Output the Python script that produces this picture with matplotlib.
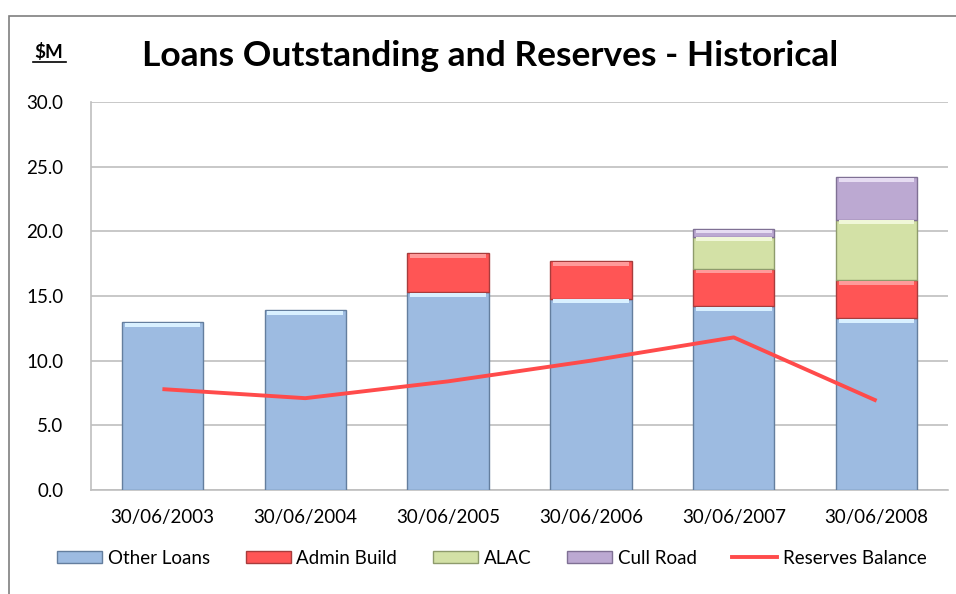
import numpy as np
import matplotlib
matplotlib.use("Agg")
import matplotlib.pyplot as plt
from matplotlib.patches import Patch, Rectangle
from matplotlib.lines import Line2D

# ─── Data ───────────────────────────────────────────────────────────────────
DATES = ["30/06/2003", "30/06/2004", "30/06/2005", "30/06/2006", "30/06/2007", "30/06/2008"]
OTHER_LOANS = [13.0, 13.9, 15.3, 14.8, 14.2, 13.3]
ADMIN_BUILD = [0.0, 0.0, 3.0, 2.9, 2.9, 2.9]
ALAC        = [0.0, 0.0, 0.0, 0.0, 2.5, 4.7]
CULL_ROAD   = [0.0, 0.0, 0.0, 0.0, 0.6, 3.3]
RESERVES    = [7.8, 7.1, 8.4, 10.0, 11.8, 6.9]

SERIES = [
    ("Other Loans", OTHER_LOANS, "#9DBBE1", "#D9F0FF", "#647E9E"),
    ("Admin Build", ADMIN_BUILD, "#FF5555", "#FF9A9A", "#A83C3C"),
    ("ALAC",        ALAC,        "#D3E1A6", "#F0F7D8", "#8E9B6C"),
    ("Cull Road",   CULL_ROAD,   "#BCA9D2", "#E6DCF2", "#7F7094"),
]
LINE_CLR = "#FF4B4B"
GRID_CLR = "#BFBFBF"
FONT = "Lato"

plt.rcParams["font.family"] = [FONT, "DejaVu Sans"]

fig = plt.figure(figsize=(9.56, 5.94), dpi=100, facecolor="white")
ax = fig.add_axes([91 / 956, 104 / 594, 857 / 956, 388 / 594])

# outer chart frame (runs off the right and bottom of the picture)
fig.add_artist(Rectangle((9 / 956, -0.1), 1.5, (594 - 16) / 594 + 0.1,
                         transform=fig.transFigure, fill=False,
                         edgecolor="#7F7F7F", linewidth=1.2))

x = np.arange(len(DATES))
width = 0.57
bottom = np.zeros(len(DATES))
handles = []
for name, vals, face, hi, edge in SERIES:
    vals = np.array(vals)
    mask = vals > 0
    ax.bar(x[mask], vals[mask], width, bottom=bottom[mask], color=face,
           edgecolor=edge, linewidth=1.0, zorder=3)
    # bevel highlight strip at the top of each segment
    hh = np.minimum(vals, 0.3)
    ax.bar(x[mask], hh[mask], width * 0.93,
           bottom=(bottom + vals - hh - 0.06)[mask], color=hi,
           linewidth=0, zorder=4)
    bottom = bottom + vals
    handles.append(Patch(facecolor=face, edgecolor=edge, label=name))

ax.plot(x, RESERVES, color=LINE_CLR, linewidth=2.8, zorder=5,
        solid_capstyle="butt")
handles.append(Line2D([0], [0], color=LINE_CLR, linewidth=2.8,
                      label="Reserves Balance"))

ax.set_xlim(-0.5, len(DATES) - 0.5)
ax.set_ylim(0, 30)
ax.set_yticks(np.arange(0, 30.1, 5))
ax.set_yticklabels([f"{v:.1f}" for v in np.arange(0, 30.1, 5)])
ax.set_xticks(x)
ax.set_xticklabels(DATES)
ax.tick_params(axis="both", length=0, labelsize=13.5, colors="black")
ax.tick_params(axis="x", pad=14)
ax.tick_params(axis="y", pad=20)
ax.grid(axis="y", color=GRID_CLR, linewidth=1.2, zorder=0)
ax.set_axisbelow(True)
for s in ["top", "right"]:
    ax.spines[s].set_visible(False)
for s in ["left", "bottom"]:
    ax.spines[s].set_color(GRID_CLR)
    ax.spines[s].set_linewidth(1.2)

fig.text(490 / 956, 1 - 56 / 594, "Loans Outstanding and Reserves - Historical",
         ha="center", va="center", fontsize=25.5, fontweight="bold")
fig.text(49 / 956, 1 - 52 / 594, "$M", ha="center", va="center",
         fontsize=13.5, fontweight="bold")
fig.add_artist(Line2D([33 / 956, 66 / 956], [1 - 62 / 594, 1 - 62 / 594],
                      transform=fig.transFigure, color="black", linewidth=1.2))

fig.legend(handles=handles, loc="center", ncol=5, frameon=False,
           bbox_to_anchor=(492 / 956, 1 - 558 / 594), fontsize=13.5,
           handlelength=2.4, handleheight=0.6, columnspacing=1.9,
           handletextpad=0.3)

fig.savefig("out.png", dpi=100, facecolor="white")
